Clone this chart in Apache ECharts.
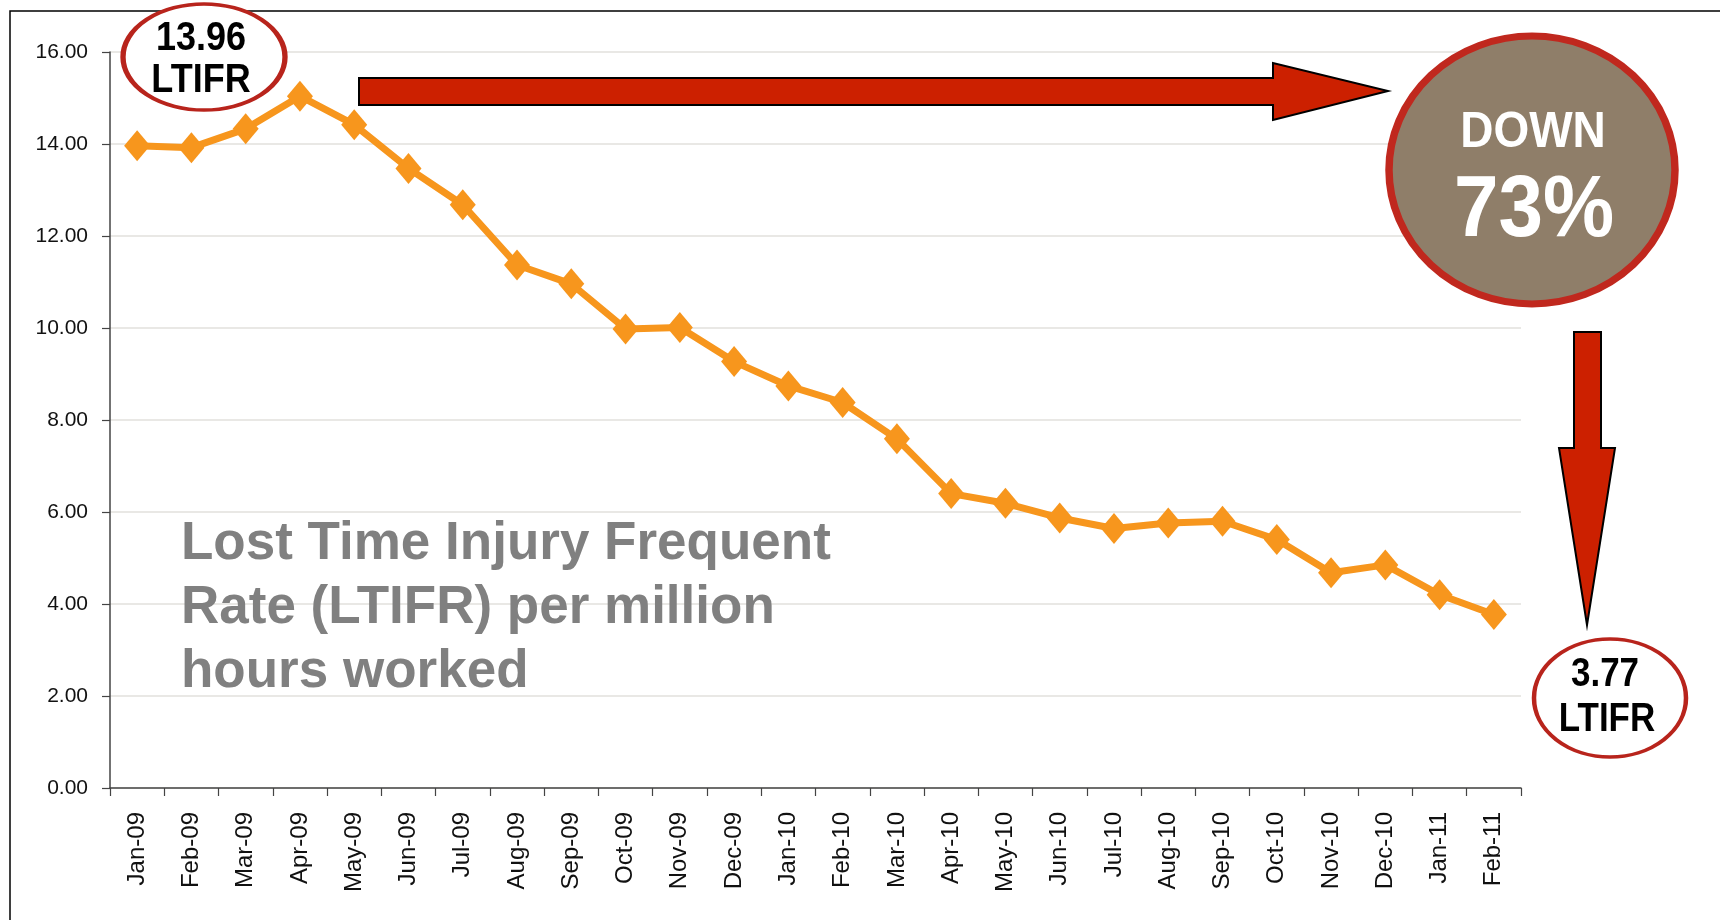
<!DOCTYPE html>
<html>
<head>
<meta charset="utf-8">
<script src="https://cdn.jsdelivr.net/npm/echarts@6/dist/echarts.min.js"></script>
<style>
  html, body { margin: 0; padding: 0; background: #fff; }
  #main { width: 1720px; height: 920px; }
</style>
</head>
<body>
<div id="main"></div>
<script>
// data
const months = ['Jan-09', 'Feb-09', 'Mar-09', 'Apr-09', 'May-09', 'Jun-09', 'Jul-09', 'Aug-09', 'Sep-09', 'Oct-09', 'Nov-09', 'Dec-09',
  'Jan-10', 'Feb-10', 'Mar-10', 'Apr-10', 'May-10', 'Jun-10', 'Jul-10', 'Aug-10', 'Sep-10', 'Oct-10', 'Nov-10', 'Dec-10',
  'Jan-11', 'Feb-11'];
const ltifr = [13.96, 13.92, 14.33, 15.04, 14.42, 13.47, 12.68, 11.37, 10.96, 9.98, 10.01, 9.27,
  8.74, 8.38, 7.59, 6.40, 6.19, 5.87, 5.64, 5.76, 5.80, 5.40, 4.68, 4.85,
  4.20, 3.77];
const yTicks = { min: 0, max: 16, step: 2 };
const noteStart = ['13.96', 'LTIFR'];
const noteEnd = ['3.77', 'LTIFR'];
const noteDown = ['DOWN', '73%'];
const titleLines = ['Lost Time Injury Frequent', 'Rate (LTIFR) per million', 'hours worked'];

const orange = '#f7961d';
const ringRed = '#b8241c';
const arrowRed = '#cc2000';
const font = '"Liberation Sans", Arial, sans-serif';

// ellipse = circle scaled along x
const ellipse = (cx, cy, rx, ry, fill, stroke, lw) => ({
  type: 'circle', x: cx, y: cy, scaleX: rx / ry, z: 20,
  shape: { cx: 0, cy: 0, r: ry },
  style: { fill: fill, stroke: stroke, lineWidth: lw, strokeNoScale: true }
});
const label = (txt, x, y, size, color, sy) => ({
  type: 'text', x: x, y: y, scaleY: sy || 1, z: 30,
  style: { text: txt, font: 'bold ' + size + 'px ' + font, fill: color, align: 'center', verticalAlign: 'middle' }
});

let myChart = echarts.init(document.getElementById('main'));
myChart.setOption({
  animation: false,
  backgroundColor: '#fff',
  grid: { left: 110, right: 199, top: 52, bottom: 132 },
  xAxis: {
    type: 'category',
    data: months,
    boundaryGap: true,
    axisLine: { lineStyle: { color: '#444', width: 1.5 } },
    axisTick: { show: true, length: 8, lineStyle: { color: '#444', width: 1.2 } },
    axisLabel: { rotate: 90, interval: 0, margin: 24, fontSize: 24, color: '#111', fontFamily: font }
  },
  yAxis: {
    type: 'value',
    min: yTicks.min,
    max: yTicks.max,
    interval: yTicks.step,
    axisLine: { show: true, lineStyle: { color: '#444', width: 1.5 } },
    axisTick: { show: true, length: 8, lineStyle: { color: '#444', width: 1.2 } },
    axisLabel: { margin: 22, fontSize: 21, color: '#111', fontFamily: font, formatter: v => v.toFixed(2) },
    splitLine: { show: true, lineStyle: { color: '#e2e1dc', width: 1.5 } }
  },
  series: [
    {
      name: 'LTIFR',
      type: 'line',
      data: ltifr,
      symbol: 'diamond',
      symbolSize: [26, 31],
      lineStyle: { color: orange, width: 7 },
      itemStyle: { color: orange },
      z: 5
    }
  ],
  graphic: [
    // frame
    { type: 'rect', z: 1, shape: { x: 10, y: 11, width: 1800, height: 1000 },
      style: { fill: null, stroke: '#000', lineWidth: 1.5 } },
    // right arrow
    { type: 'polygon', z: 15,
      shape: { points: [[359, 78], [1273, 78], [1273, 63], [1388, 91], [1273, 120], [1273, 105], [359, 105]] },
      style: { fill: arrowRed, stroke: '#000', lineWidth: 2 } },
    // down arrow
    { type: 'polygon', z: 15,
      shape: { points: [[1574, 332], [1601, 332], [1601, 448], [1615, 448], [1587, 625], [1559, 448], [1574, 448]] },
      style: { fill: arrowRed, stroke: '#000', lineWidth: 2 } },
    ellipse(204, 57, 81, 53, '#fff', ringRed, 3.5),
    label(noteStart[0], 201, 39, 36, '#000', 1.15),
    label(noteStart[1], 201, 81, 36, '#000', 1.15),
    ellipse(1532, 170, 143, 134, '#8f7e69', '#c0281e', 7),
    label(noteDown[0], 1533, 133, 46, '#fff', 1.1),
    label(noteDown[1], 1534, 212, 80, '#fff', 1.1),
    ellipse(1610, 698, 76, 59, '#fff', ringRed, 3.5),
    label(noteEnd[0], 1605, 675, 35, '#000', 1.15),
    label(noteEnd[1], 1607, 720, 35, '#000', 1.15),
    // title block
    ...titleLines.map((t, i) => ({
      type: 'text', x: 181, y: 544 + i * 64, z: 10,
      style: { text: t, font: 'bold 53px ' + font, fill: '#808080', align: 'left', verticalAlign: 'middle' }
    }))
  ]
});
</script>
</body>
</html>
